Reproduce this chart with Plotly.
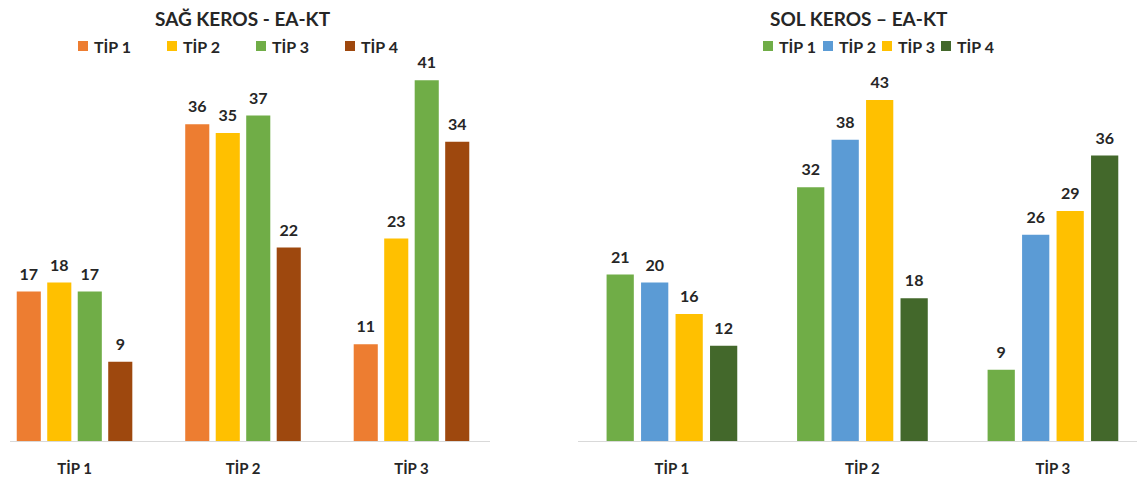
import plotly.graph_objects as go

categories = ["TİP 1", "TİP 2", "TİP 3"]
series_names = ["TİP 1", "TİP 2", "TİP 3", "TİP 4"]

sag_values = {
    "TİP 1": [17, 36, 11],
    "TİP 2": [18, 35, 23],
    "TİP 3": [17, 37, 41],
    "TİP 4": [9, 22, 34],
}
sol_values = {
    "TİP 1": [21, 32, 9],
    "TİP 2": [20, 38, 26],
    "TİP 3": [16, 43, 29],
    "TİP 4": [12, 18, 36],
}
sag_colors = ["#ED7D31", "#FFC000", "#70AD47", "#9E480E"]
sol_colors = ["#70AD47", "#5B9BD5", "#FFC000", "#43682B"]

left_title = "SAĞ KEROS - EA-KT"
right_title = "SOL KEROS – EA-KT"

FONT = "Lato, 'Open Sans', sans-serif"
TXT = "#262626"

# page has an 8px body margin; figure is sized to fill the rest of the window
OFF = 8
WF, HF = 1145 - OFF, 481 - OFF


def px(x):
    return (x - OFF) / WF


def py(y):
    return (HF - (y - OFF)) / HF


LABEL_FMT = "<span style='font-size:16px'><b>%{text}</b></span><br> "

fig = go.Figure()
for name, col in zip(series_names, sag_colors):
    v = sag_values[name]
    fig.add_trace(go.Bar(
        x=categories, y=v, name=name, marker_color=col, marker_line_width=0,
        text=[str(t) for t in v], texttemplate=LABEL_FMT,
        textposition="outside", cliponaxis=False,
        textfont=dict(family=FONT, size=6, color=TXT),
        xaxis="x", yaxis="y", offsetgroup=name + "L", showlegend=False,
    ))
for name, col in zip(series_names, sol_colors):
    v = sol_values[name]
    fig.add_trace(go.Bar(
        x=categories, y=v, name=name, marker_color=col, marker_line_width=0,
        text=[str(t) for t in v], texttemplate=LABEL_FMT,
        textposition="outside", cliponaxis=False,
        textfont=dict(family=FONT, size=6, color=TXT),
        xaxis="x2", yaxis="y2", offsetgroup=name + "R", showlegend=False,
    ))

BASE_Y = 441
TOP_Y = 60
axis_common = dict(
    showgrid=False, zeroline=False, showline=True, linecolor="#D9D9D9", linewidth=1,
    ticks="", tickfont=dict(family=FONT, size=15, color=TXT), ticklabelstandoff=14,
    type="category", tickvals=categories,
    ticktext=["<b>" + c + "</b>" for c in categories],
)

# legend swatches + labels (one row per chart, as in the reference)
shapes = []
annotations = []
legend_specs = [
    (sag_colors, [78, 167, 256, 345]),
    (sol_colors, [763, 823, 882, 941]),
]
for colors, xs in legend_specs:
    for name, col, x0 in zip(series_names, colors, xs):
        shapes.append(dict(type="rect", xref="paper", yref="paper",
                           x0=px(x0), x1=px(x0 + 10), y0=py(51), y1=py(41),
                           fillcolor=col, line=dict(width=0)))
        annotations.append(dict(text="<b>" + name + "</b>", x=px(x0 + 14), y=py(46),
                                xref="paper", yref="paper", xanchor="left", yanchor="middle",
                                showarrow=False, font=dict(family=FONT, size=16, color=TXT)))

for title, cx in ((left_title, 243), (right_title, 859)):
    annotations.append(dict(text="<b>" + title + "</b>", x=px(cx), y=py(18),
                            xref="paper", yref="paper", xanchor="center", yanchor="middle",
                            showarrow=False, font=dict(family=FONT, size=19, color=TXT)))

fig.update_layout(
    width=WF, height=HF,
    margin=dict(l=0, r=0, t=0, b=0),
    paper_bgcolor="white", plot_bgcolor="white",
    barmode="group", bargap=0.276, bargroupgap=0.21,
    font=dict(family=FONT, color=TXT),
    showlegend=False,
    xaxis=dict(domain=[px(10), px(490)], range=[-0.383, 2.466], anchor="y", **axis_common),
    xaxis2=dict(domain=[px(578), px(1140)], range=[-0.493, 2.457], anchor="y2", **axis_common),
    yaxis=dict(domain=[py(BASE_Y), py(TOP_Y)], range=[0, (BASE_Y - TOP_Y) / 8.8],
               visible=False, anchor="x"),
    yaxis2=dict(domain=[py(BASE_Y), py(TOP_Y)], range=[0, (BASE_Y - TOP_Y) / 7.93],
                visible=False, anchor="x2"),
    shapes=shapes,
    annotations=annotations,
)

fig.write_html("out.html")
